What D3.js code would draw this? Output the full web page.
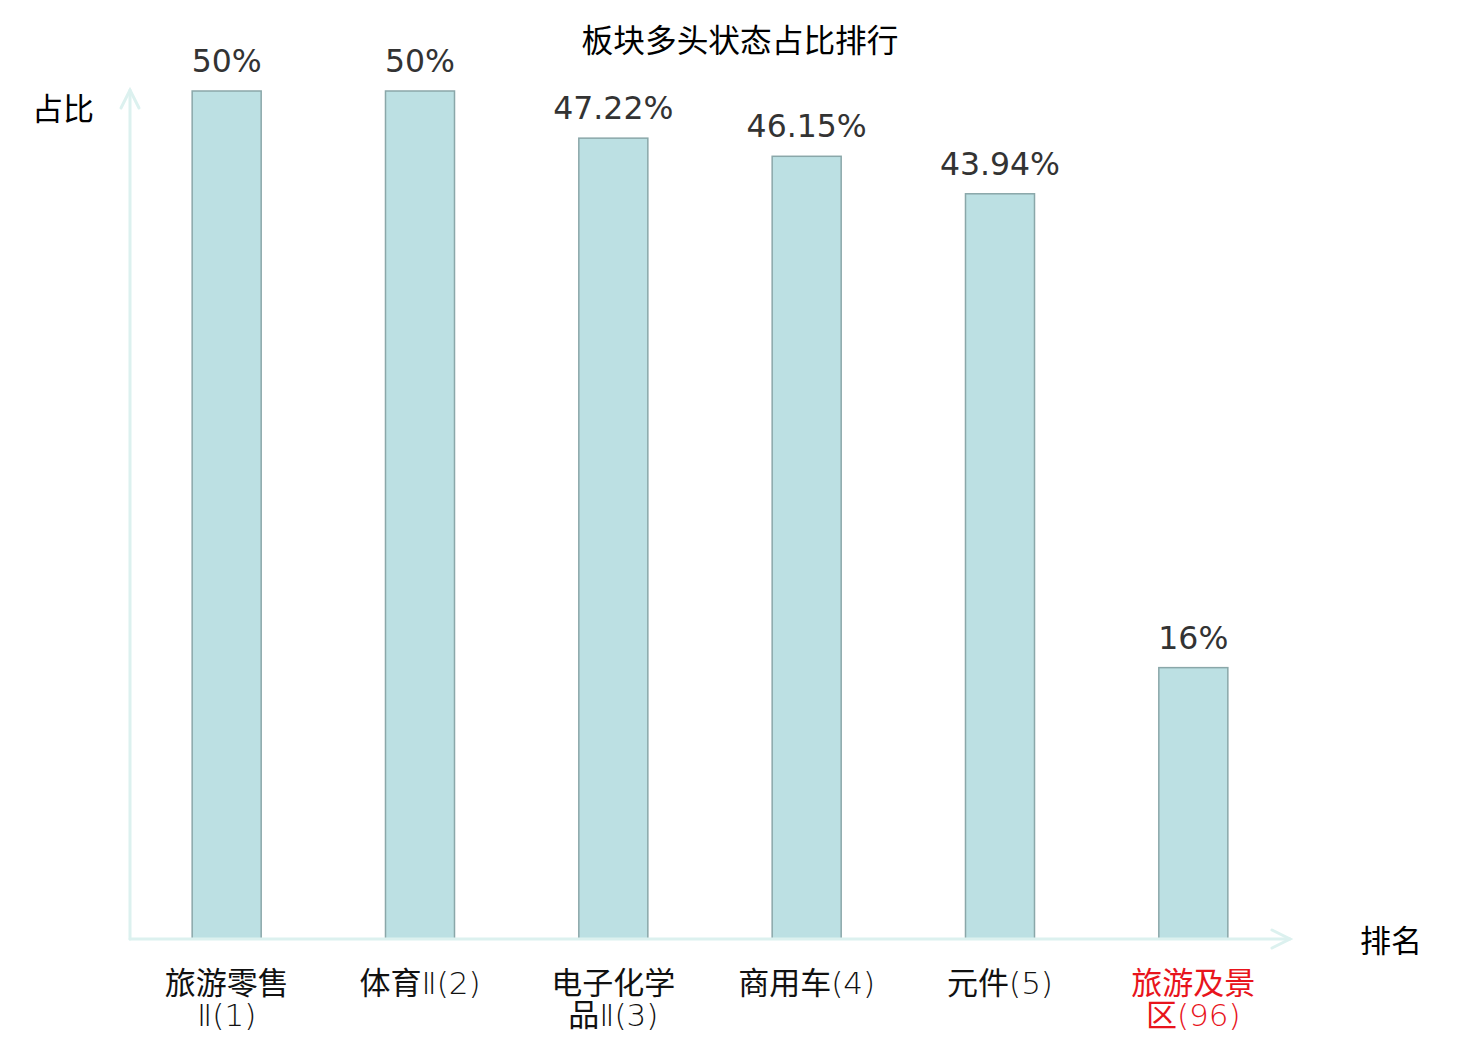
<!DOCTYPE html>
<html><head><meta charset="utf-8">
<script src="https://cdn.jsdelivr.net/npm/d3@7"></script>
<style>html,body{margin:0;padding:0;background:#fff;}</style>
</head><body>
<svg id="c" width="1480" height="1040"></svg>
<script>
const categories = ["旅游零售Ⅱ(1)", "体育Ⅱ(2)", "电子化学品Ⅱ(3)", "商用车(4)", "元件(5)", "旅游及景区(96)"];
const values = [50, 50, 47.22, 46.15, 43.94, 16];
const valueLabels = ["50%", "50%", "47.22%", "46.15%", "43.94%", "16%"];
const highlight = [false, false, false, false, false, true];
const title = "板块多头状态占比排行";
const yName = "占比";
const xName = "排名";

const svg = d3.select("#c");
const x0 = 130, x1 = 1290, yBase = 939, yTop = 91;
const x = d3.scaleBand().domain(categories).range([x0, x1]).paddingInner(0.643).paddingOuter(0.3215);
const y = d3.scaleLinear().domain([0, 50]).range([yBase, yTop]);

const axisColor = "#dcf1ef";
const cjk = "'Noto Sans CJK SC', 'DejaVu Sans', sans-serif";

// title
svg.append("text").attr("x", 740).attr("y", 52).attr("text-anchor", "middle")
  .attr("font-family", cjk).attr("font-size", 31.7).attr("fill", "#000").text(title);

// bars
svg.append("g").selectAll("rect").data(categories).join("rect")
  .attr("x", d => x(d)).attr("width", x.bandwidth())
  .attr("y", (d, i) => y(values[i])).attr("height", (d, i) => yBase - y(values[i]))
  .attr("fill", "#bce0e3").attr("stroke", "#8aa7a9").attr("stroke-width", 1.5);

// axes
const ax = svg.append("g").attr("stroke", axisColor).attr("stroke-width", 3).attr("fill", "none").attr("stroke-linecap", "round");
ax.append("line").attr("x1", x0).attr("y1", yBase).attr("x2", x1).attr("y2", yBase);
ax.append("polyline").attr("points", `${x1-18},${yBase-9} ${x1},${yBase} ${x1-18},${yBase+9}`);
ax.append("line").attr("x1", x0).attr("y1", yBase).attr("x2", x0).attr("y2", 90);
ax.append("polyline").attr("points", `${x0-9},${108} ${x0},${90} ${x0+9},${108}`);

// value labels
svg.append("g").selectAll("text").data(categories).join("text")
  .attr("x", d => x(d) + x.bandwidth() / 2).attr("y", (d, i) => y(values[i]) - 19)
  .attr("text-anchor", "middle").attr("font-family", "'DejaVu Sans', sans-serif")
  .attr("font-size", 31.5).attr("fill", "#333").text((d, i) => valueLabels[i]);

// category labels: CJK runs regular, Latin runs in DejaVu Sans ExtraLight
const lblG = svg.append("g").attr("font-size", 31);
categories.forEach((d, i) => {
  const lines = d.length > 6 ? [d.slice(0, 4), d.slice(4)] : [d];
  lines.forEach((s, j) => {
    const t = lblG.append("text").attr("text-anchor", "middle")
      .attr("x", x(d) + x.bandwidth() / 2).attr("y", 994 + j * 32)
      .attr("fill", highlight[i] ? "#e8141c" : "#111");
    s.split(/([\u4e00-\u9fff]+)/).filter(p => p.length).forEach(p => {
      const isCjk = /[\u4e00-\u9fff]/.test(p);
      t.append("tspan")
        .attr("font-family", isCjk ? "'Noto Sans CJK SC', sans-serif" : "'DejaVu Sans', sans-serif")
        .attr("font-weight", isCjk ? 400 : 200).text(p);
    });
  });
});

// axis names
svg.append("text").attr("x", 63).attr("y", 120).attr("text-anchor", "middle")
  .attr("font-family", cjk).attr("font-size", 31).attr("fill", "#000").text(yName);
svg.append("text").attr("x", 1391).attr("y", 952).attr("text-anchor", "middle")
  .attr("font-family", cjk).attr("font-size", 31).attr("fill", "#000").text(xName);
</script>
</body></html>
